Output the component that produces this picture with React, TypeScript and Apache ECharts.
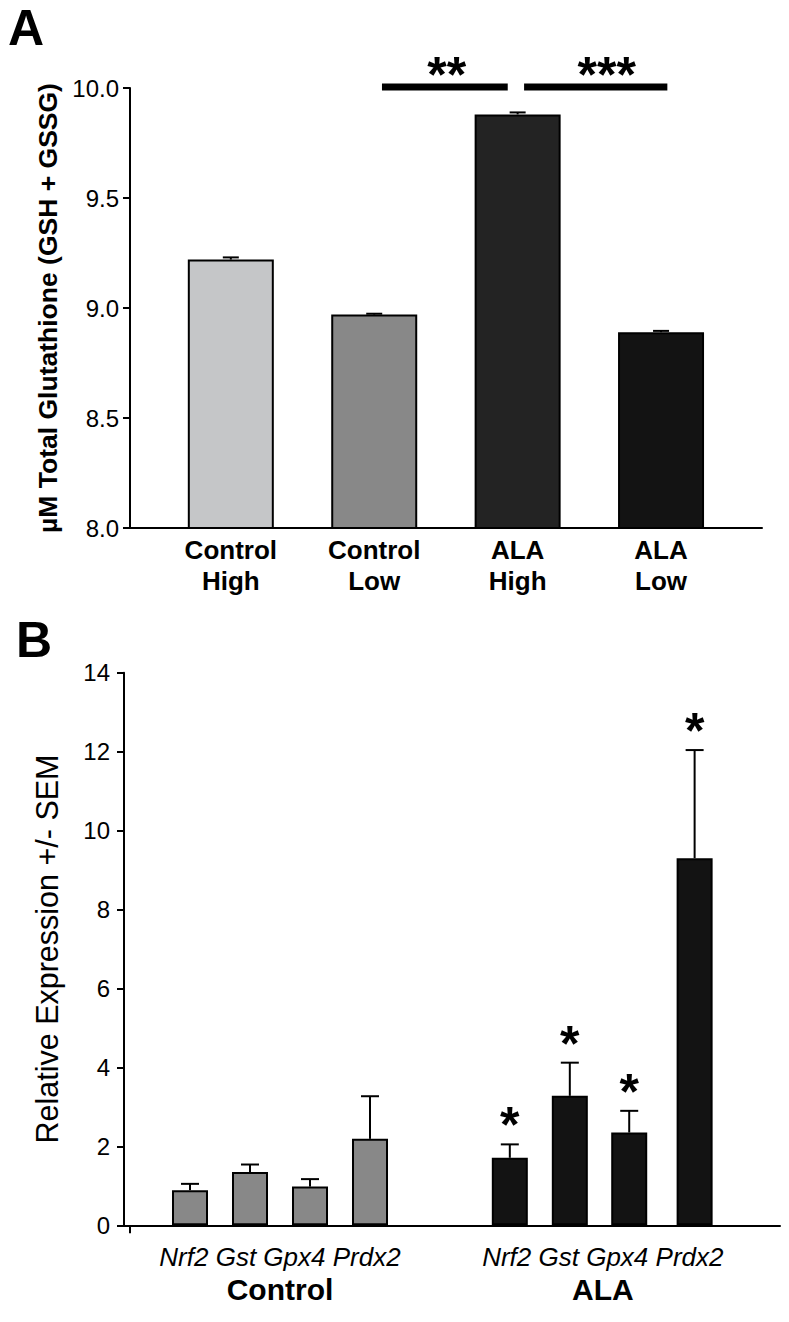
import React, { useEffect, useRef } from 'react';
import * as echarts from 'echarts';

// ---------- Panel A data ----------
const glutCategories = ['Control\nHigh', 'Control\nLow', 'ALA\nHigh', 'ALA\nLow'];
const glutPositions = [0, 1, 2, 3];
const glutValues = [9.22, 8.97, 9.88, 8.89];
const glutErrors = [0.01, 0.004, 0.009, 0.006];
const glutColors = ['#c5c6c8', '#888888', '#232323', '#131313'];

const sigFrom = [1.054, 2.045];
const sigTo = [1.931, 3.044];
const sigLevel = [10.0, 10.0];
const sigLabels = ['**', '***'];
const sigLabelPos = [1.506, 2.621];

// ---------- Panel B data ----------
const genes = ['Nrf2', 'Gst', 'Gpx4', 'Prdx2'];
const groups = ['Control', 'ALA'];
const groupLabelPositions = [1.5, 6.88];
const controlPositions = [0, 1, 2, 3];
const alaPositions = [5.33, 6.33, 7.32, 8.41];
const controlValues = [0.89, 1.35, 0.98, 2.19];
const controlErrors = [0.16, 0.19, 0.19, 1.08];
const alaValues = [1.71, 3.28, 2.35, 9.30];
const alaErrors = [0.34, 0.84, 0.55, 2.74];
const controlSignificant = [false, false, false, false];
const alaSignificant = [true, true, true, true];
const controlColor = '#888888';
const alaColor = '#131313';

const FONT = '"Liberation Sans", Arial, Helvetica, sans-serif';

export default function App() {
  const ref = useRef<HTMLDivElement>(null);

  useEffect(() => {
    if (!ref.current) return;
    const chart = echarts.init(ref.current, undefined, { renderer: 'svg' });

    const barA = glutValues.map((v, i) => ({
      value: [glutPositions[i], v],
      itemStyle: { color: glutColors[i], borderColor: '#000', borderWidth: 2 },
    }));
    const errA = glutValues.map((v, i) => [glutPositions[i], v, glutErrors[i], 0]);
    const sigData = sigFrom.map((f, i) => [f, sigTo[i], sigLevel[i], sigLabelPos[i]]);

    const barB = [
      ...controlValues.map((v, i) => ({
        value: [controlPositions[i], v],
        itemStyle: { color: controlColor, borderColor: '#000', borderWidth: 2 },
      })),
      ...alaValues.map((v, i) => ({
        value: [alaPositions[i], v],
        itemStyle: { color: alaColor, borderColor: '#000', borderWidth: 2 },
      })),
    ];
    const errB = [
      ...controlValues.map((v, i) => [controlPositions[i], v, controlErrors[i], controlSignificant[i] ? 1 : 0]),
      ...alaValues.map((v, i) => [alaPositions[i], v, alaErrors[i], alaSignificant[i] ? 1 : 0]),
    ];

    const makeErr = (capHalf: number) => (params: any, api: any) => {
      const x = api.value(0);
      const v = api.value(1);
      const e = api.value(2);
      const s = api.value(3);
      const base = api.coord([x, v]);
      const top = api.coord([x, v + e]);
      const children: any[] = [
        { type: 'line', shape: { x1: base[0], y1: base[1], x2: top[0], y2: top[1] }, style: { stroke: '#000', lineWidth: 2 } },
        { type: 'line', shape: { x1: top[0] - capHalf, y1: top[1], x2: top[0] + capHalf, y2: top[1] }, style: { stroke: '#000', lineWidth: 2 } },
      ];
      if (s) {
        children.push({
          type: 'text',
          x: top[0],
          y: top[1] - 19,
          style: { text: '*', fontSize: 50, fontWeight: 'bold', fontFamily: FONT, fill: '#000', align: 'center', verticalAlign: 'middle' },
        });
      }
      return { type: 'group', children };
    };

    const option: any = {
      animation: false,
      backgroundColor: '#fff',
      graphic: [
        { type: 'text', x: 8, y: 28, style: { text: 'A', fontSize: 50, fontWeight: 'bold', fontFamily: FONT, fill: '#000', verticalAlign: 'middle' } },
        { type: 'text', x: 16, y: 640, style: { text: 'B', fontSize: 50, fontWeight: 'bold', fontFamily: FONT, fill: '#000', verticalAlign: 'middle' } },
      ],
      grid: [
        { left: 130, top: 88, width: 632, height: 440, outerBoundsMode: 'none' },
        { left: 124, top: 672.7, width: 656, height: 552.6, outerBoundsMode: 'none' },
      ],
      xAxis: [
        {
          type: 'value', gridIndex: 0, min: -0.703, max: 3.704,
          splitLine: { show: false },
          axisLine: { show: true, onZero: false, lineStyle: { color: '#000', width: 2 } },
          axisTick: { show: false },
          axisLabel: {
            customValues: glutPositions,
            formatter: (v: number) => glutCategories[glutPositions.indexOf(v)] ?? '',
            fontSize: 26, fontWeight: 'bold', fontFamily: FONT, color: '#000', lineHeight: 31, margin: 6,
          },
        },
        {
          type: 'value', gridIndex: 1, min: -1.1, max: 9.833,
          splitLine: { show: false },
          axisLine: { show: true, onZero: false, lineStyle: { color: '#000', width: 2 } },
          axisTick: { show: true, customValues: [-1], length: 8, lineStyle: { color: '#000', width: 2 } },
          axisLabel: {
            customValues: groupLabelPositions,
            formatter: (v: number) => {
              const i = groupLabelPositions.indexOf(v);
              if (i < 0) return '';
              return '{g|' + genes.join(' ') + '}\n{b|' + groups[i] + '}';
            },
            margin: 16,
            rich: {
              g: { fontSize: 26, fontStyle: 'italic', fontFamily: FONT, color: '#000', lineHeight: 32 },
              b: { fontSize: 30, fontWeight: 'bold', fontFamily: FONT, color: '#000', lineHeight: 32 },
            },
          },
        },
      ],
      yAxis: [
        {
          type: 'value', gridIndex: 0, min: 8, max: 10, interval: 0.5,
          splitLine: { show: false },
          axisLine: { show: true, onZero: false, lineStyle: { color: '#000', width: 2 } },
          axisTick: { show: true, length: 7, lineStyle: { color: '#000', width: 2 } },
          axisLabel: { formatter: (v: number) => v.toFixed(1), fontSize: 24, fontFamily: FONT, color: '#000', margin: 11 },
          name: 'µM Total Glutathione (GSH + GSSG)',
          nameLocation: 'middle',
          nameGap: 57,
          nameTextStyle: { fontSize: 26.5, fontWeight: 'bold', fontFamily: FONT, color: '#000' },
        },
        {
          type: 'value', gridIndex: 1, min: 0, max: 14, interval: 2,
          splitLine: { show: false },
          axisLine: { show: true, onZero: false, lineStyle: { color: '#000', width: 2 } },
          axisTick: { show: true, length: 7, lineStyle: { color: '#000', width: 2 } },
          axisLabel: { fontSize: 24, fontFamily: FONT, color: '#000', margin: 14 },
          name: 'Relative Expression +/- SEM',
          nameLocation: 'middle',
          nameGap: 62,
          nameTextStyle: { fontSize: 30.5, fontFamily: FONT, color: '#000' },
        },
      ],
      series: [
        { type: 'bar', xAxisIndex: 0, yAxisIndex: 0, barWidth: 86, data: barA, z: 2 },
        { type: 'custom', xAxisIndex: 0, yAxisIndex: 0, data: errA, renderItem: makeErr(8), z: 3, clip: false },
        {
          type: 'custom', xAxisIndex: 0, yAxisIndex: 0, data: sigData, z: 4, clip: false,
          renderItem: (params: any, api: any) => {
            const a = api.coord([api.value(0), api.value(2)]);
            const b = api.coord([api.value(1), api.value(2)]);
            const t = api.coord([api.value(3), api.value(2)]);
            return {
              type: 'group',
              children: [
                { type: 'rect', shape: { x: a[0], y: a[1] - 4.5, width: b[0] - a[0], height: 7 }, style: { fill: '#000' } },
                {
                  type: 'text', x: t[0], y: a[1] - 13,
                  style: { text: sigLabels[params.dataIndex], fontSize: 50, fontWeight: 'bold', fontFamily: FONT, fill: '#000', align: 'center', verticalAlign: 'middle' },
                },
              ],
            };
          },
        },
        { type: 'bar', xAxisIndex: 1, yAxisIndex: 1, barWidth: 36, data: barB, z: 2 },
        { type: 'custom', xAxisIndex: 1, yAxisIndex: 1, data: errB, renderItem: makeErr(9), z: 3, clip: false },
      ],
    };

    chart.setOption(option);
    return () => chart.dispose();
  }, []);

  return <div ref={ref} style={{ position: 'absolute', left: 0, top: 0, width: 789, height: 1322 }} />;
}
